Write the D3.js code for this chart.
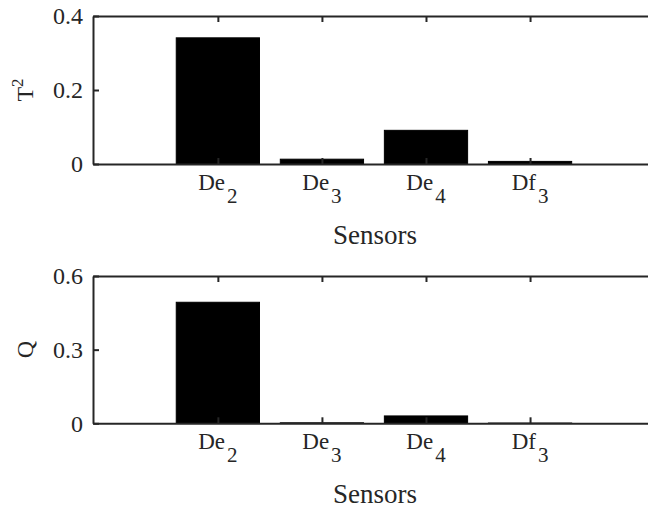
<!DOCTYPE html>
<html>
<head>
<meta charset="utf-8">
<script src="https://cdn.jsdelivr.net/npm/d3@7"></script>
<style>
  body { margin: 0; background: #fff; }
</style>
</head>
<body>
<script>
// sensor names (base + subscript)
var sensors = ["De", "De", "De", "Df"];
var sensorSubs = ["2", "3", "4", "3"];

// contribution values
var t2Values = [0.341, 0.013, 0.091, 0.007];
var qValues = [0.493, 0.002, 0.030, 0.001];

var t2Ticks = [0, 0.2, 0.4];
var qTicks = [0, 0.3, 0.6];

var W = 648, H = 508;
var left = 93, right = 657;

var svg = d3.select("body")
  .append("svg")
  .attr("width", W)
  .attr("height", H);

// category index -> pixel
var x = d3.scaleLinear()
  .domain([-1.2, 4.22])
  .range([left, right]);

var barW = x(0.4) - x(-0.4);

function serifText(sel, size)
{
  return sel
    .style("font-family", "'Liberation Serif'")
    .style("font-size", size + "px")
    .style("fill", "#262626");
}

function drawPanel(values, ticks, top, bottom, ylabel)
{
  var y = d3.scaleLinear()
    .domain([0, ticks[ticks.length - 1]])
    .range([bottom, top]);

  var g = svg.append("g");

  /****** BARS ******/
  g.selectAll("rect")
    .data(values)
    .enter()
    .append("rect")
      .attr("x", function(d, i) { return x(i) - barW / 2; })
      .attr("y", function(d) { return y(d); })
      .attr("width", barW)
      .attr("height", function(d) { return y(0) - y(d); })
      .attr("fill", "#000")
      .attr("stroke", "#000")
      .attr("stroke-width", 1);

  /****** AXES ******/
  var yAxis = d3.axisLeft(y)
    .tickValues(ticks)
    .tickFormat(d3.format("~g"))
    .tickSizeInner(-6)
    .tickSizeOuter(0)
    .tickPadding(10);

  var xBottom = d3.axisBottom(x)
    .tickValues(d3.range(sensors.length))
    .tickFormat("")
    .tickSizeInner(-6)
    .tickSizeOuter(0);

  var xTop = d3.axisTop(x)
    .tickValues(d3.range(sensors.length))
    .tickFormat("")
    .tickSizeInner(-6)
    .tickSizeOuter(0);

  var ya = g.append("g")
    .attr("transform", "translate(" + left + ",0)")
    .call(yAxis);
  serifText(ya.selectAll("text"), 24)
    .attr("dy", "0.33em");

  g.append("g")
    .attr("transform", "translate(0," + bottom + ")")
    .call(xBottom);

  g.append("g")
    .attr("transform", "translate(0," + top + ")")
    .call(xTop);

  g.selectAll(".domain, .tick line")
    .attr("stroke", "#262626")
    .attr("stroke-width", 2);

  // category labels with subscripts
  var lab = serifText(g.selectAll(".cat")
    .data(sensors)
    .enter()
    .append("text")
      .attr("class", "cat")
      .attr("x", function(d, i) { return x(i); })
      .attr("y", bottom + 25.5)
      .attr("text-anchor", "middle"), 23);
  lab.append("tspan").text(function(d) { return d; });
  lab.append("tspan")
    .attr("dx", 2)
    .attr("dy", 13)
    .style("font-size", "21px")
    .text(function(d, i) { return sensorSubs[i]; });

  serifText(g.append("text")
    .attr("x", (left + right) / 2)
    .attr("y", bottom + 79.5)
    .attr("text-anchor", "middle"), 27)
    .text("Sensors");

  /****** Y LABEL ******/
  var yl = serifText(g.append("text")
    .attr("transform", "translate(33," + ((top + bottom) / 2) + ") rotate(-90)")
    .attr("text-anchor", "middle"), 24);
  yl.append("tspan").text(ylabel[0]);
  if (ylabel[1]) {
    yl.append("tspan")
      .attr("dy", -10)
      .style("font-size", "17px")
      .text(ylabel[1]);
  }
}

drawPanel(t2Values, t2Ticks, 16, 164, ["T", "2"]);
drawPanel(qValues, qTicks, 276, 423.3, ["Q"]);
</script>
</body>
</html>
